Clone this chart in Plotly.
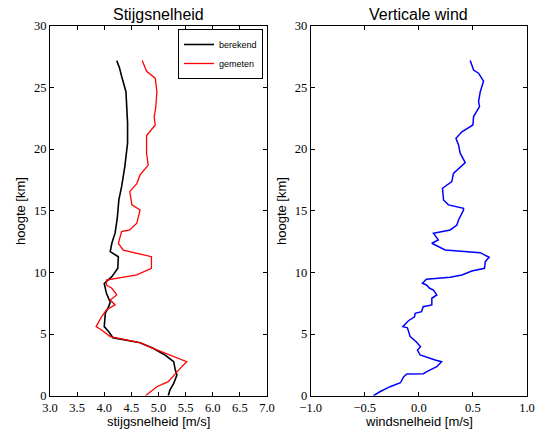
import plotly.graph_objects as go

# ---- data ----
hoogte_berekend = [0.0, 0.46, 1.0, 1.68, 2.08, 2.76, 3.3, 3.84, 4.3, 4.7, 5.2, 5.6, 6.7, 7.2, 7.6,
                   8.3, 9.1, 9.65, 10.33, 11.27, 11.68, 12.36, 13.2, 14.4, 15.9, 16.95, 18.6,
                   20.5, 22.1, 24.65, 25.9, 26.6, 27.17]
stijg_berekend = [5.18, 5.21, 5.28, 5.34, 5.31, 5.28, 5.12, 4.90, 4.66, 4.16, 4.08, 4.00, 4.02, 4.08, 4.11,
                  4.04, 4.00, 4.14, 4.25, 4.26, 4.11, 4.14, 4.20, 4.24, 4.27, 4.32, 4.38,
                  4.43, 4.43, 4.40, 4.32, 4.28, 4.23]

hoogte_gemeten = [0.0, 0.73, 1.14, 1.82, 2.22, 2.76, 3.16, 3.84, 4.3, 4.79, 5.33, 5.6, 6.4, 6.95, 7.36,
                  7.76, 8.17, 8.71, 8.98, 9.38, 9.79, 10.33, 11.27, 11.8, 12.36, 13.3, 13.44, 13.98,
                  15.06, 15.33, 15.47, 16.55, 17.2, 17.9, 18.7, 19.66, 21.1, 21.95, 22.6, 23.4,
                  24.65, 25.75, 26.3, 27.17]
stijg_gemeten = [4.76, 4.97, 5.18, 5.31, 5.40, 5.52, 5.28, 4.90, 4.66, 4.11, 3.95, 3.85, 3.95, 4.04, 4.20,
                 4.11, 4.23, 4.14, 4.04, 4.04, 4.60, 4.87, 4.87, 4.35, 4.26, 4.32, 4.47, 4.60,
                 4.66, 4.57, 4.51, 4.47, 4.60, 4.66, 4.81, 4.78, 4.78, 4.94, 4.92, 4.95,
                 4.97, 4.94, 4.78, 4.70]

hoogte_wind = [0.0, 0.32, 0.73, 1.05, 1.54, 1.76, 1.78, 1.95, 2.35, 2.76, 2.9, 3.3, 3.7, 3.97, 4.38,
               4.79, 5.5, 5.6, 6.08, 6.4, 6.68, 6.81, 7.22, 7.36, 7.9, 8.17, 8.57, 8.71, 8.98,
               9.12, 9.44, 9.6, 9.79, 10.11, 10.33, 10.87, 11.22, 11.6, 11.82, 12.36, 12.63,
               13.17, 13.44, 13.84, 14.25, 15.06, 15.2, 15.47, 15.87, 16.28, 16.82, 17.36,
               18.03, 18.9, 19.66, 20.33, 20.87, 21.4, 21.95, 22.63, 23.44, 23.85, 24.65,
               25.5, 26.15, 26.4, 27.17]
wind = [-0.42, -0.36, -0.266, -0.17, -0.14, -0.11, 0.043, 0.074, 0.166, 0.21, 0.15, 0.012, -0.013, 0.016,
        -0.025, -0.08, -0.106, -0.148, -0.096, -0.04, -0.034, 0.025, 0.04, 0.12, 0.12, 0.166, 0.135,
        0.10, 0.07, 0.033, 0.07, 0.29, 0.398, 0.49, 0.607, 0.614, 0.65, 0.567, 0.243, 0.12, 0.18,
        0.135, 0.29, 0.352, 0.367, 0.413, 0.413, 0.274, 0.228, 0.222, 0.219, 0.305,
        0.32, 0.429, 0.382, 0.367, 0.343, 0.398, 0.50, 0.506, 0.561, 0.552, 0.568,
        0.598, 0.552, 0.506, 0.475]

x1_ticks = [3.0, 3.5, 4.0, 4.5, 5.0, 5.5, 6.0, 6.5, 7.0]
x2_ticks = [-1.0, -0.5, 0.0, 0.5, 1.0]
y_ticks = [0, 5, 10, 15, 20, 25, 30]

W, H = 552, 432
SANS = "Liberation Sans"
SERIF = "Liberation Serif"

fig = go.Figure()
fig.add_trace(go.Scatter(x=stijg_berekend, y=hoogte_berekend, mode="lines", name="berekend",
                         line=dict(color="black", width=1.6), xaxis="x", yaxis="y"))
fig.add_trace(go.Scatter(x=stijg_gemeten, y=hoogte_gemeten, mode="lines", name="gemeten",
                         line=dict(color="red", width=1.3), xaxis="x", yaxis="y"))
fig.add_trace(go.Scatter(x=wind, y=hoogte_wind, mode="lines", name="wind", showlegend=False,
                         line=dict(color="blue", width=1.5), xaxis="x2", yaxis="y2"))

def fmt(v):
    s = f"{v:.1f}"
    return s.replace("-", "\u2212")

axis_common = dict(showline=True, linecolor="black", linewidth=1, mirror="ticks", ticks="inside",
                   ticklen=4, tickcolor="black", showgrid=False, zeroline=False, automargin=False,
                   tickfont=dict(family=SERIF, size=12.5, color="black"))

dom1 = [50 / W, 267 / W]
dom2 = [310.7 / W, 527 / W]
ydom = [1 - 395.7 / H, 1 - 25.7 / H]

fig.update_layout(
    template="none",
    width=W, height=H, margin=dict(l=0, r=0, t=0, b=0, pad=0, autoexpand=False),
    paper_bgcolor="white", plot_bgcolor="white",
    xaxis=dict(domain=dom1, range=[3, 7], tickvals=x1_ticks, ticktext=[fmt(v) for v in x1_ticks],
               anchor="y", **axis_common),
    yaxis=dict(domain=ydom, range=[0, 30], tickvals=y_ticks, ticktext=[str(v) for v in y_ticks],
               anchor="x", **axis_common),
    xaxis2=dict(domain=dom2, range=[-1, 1], tickvals=x2_ticks, ticktext=[fmt(v) for v in x2_ticks],
                anchor="y2", **axis_common),
    yaxis2=dict(domain=ydom, range=[0, 30], tickvals=y_ticks, ticktext=[str(v) for v in y_ticks],
                anchor="x2", **axis_common),
    showlegend=True,
    legend=dict(x=263 / W, y=1 - 29 / H, xanchor="right", yanchor="top", bgcolor="white",
                bordercolor="black", borderwidth=1, font=dict(family=SANS, size=9, color="black"),
                itemwidth=30, tracegroupgap=0),
)

ann = [
    dict(text="Stijgsnelheid", x=(dom1[0] + dom1[1]) / 2, y=1 - 14 / H, font=dict(size=16)),
    dict(text="Verticale wind", x=(dom2[0] + dom2[1]) / 2, y=1 - 14 / H, font=dict(size=16)),
    dict(text="stijgsnelheid [m/s]", x=(dom1[0] + dom1[1]) / 2, y=1 - 421 / H, font=dict(size=13)),
    dict(text="windsnelheid [m/s]", x=(dom2[0] + dom2[1]) / 2, y=1 - 421 / H, font=dict(size=13)),
    dict(text="hoogte [km]", x=20 / W, y=1 - 211 / H, textangle=-90, font=dict(size=13)),
    dict(text="hoogte [km]", x=281 / W, y=1 - 211 / H, textangle=-90, font=dict(size=13)),
]
for a in ann:
    a["font"].update(family=SANS, color="black")
    fig.add_annotation(xref="paper", yref="paper", showarrow=False, xanchor="center", yanchor="middle", **a)

fig.write_html(
    "out.html",
    config={"displayModeBar": False},
    post_script="document.body.style.margin='0';document.body.style.padding='0';"
                "document.body.style.overflow='hidden';",
)
